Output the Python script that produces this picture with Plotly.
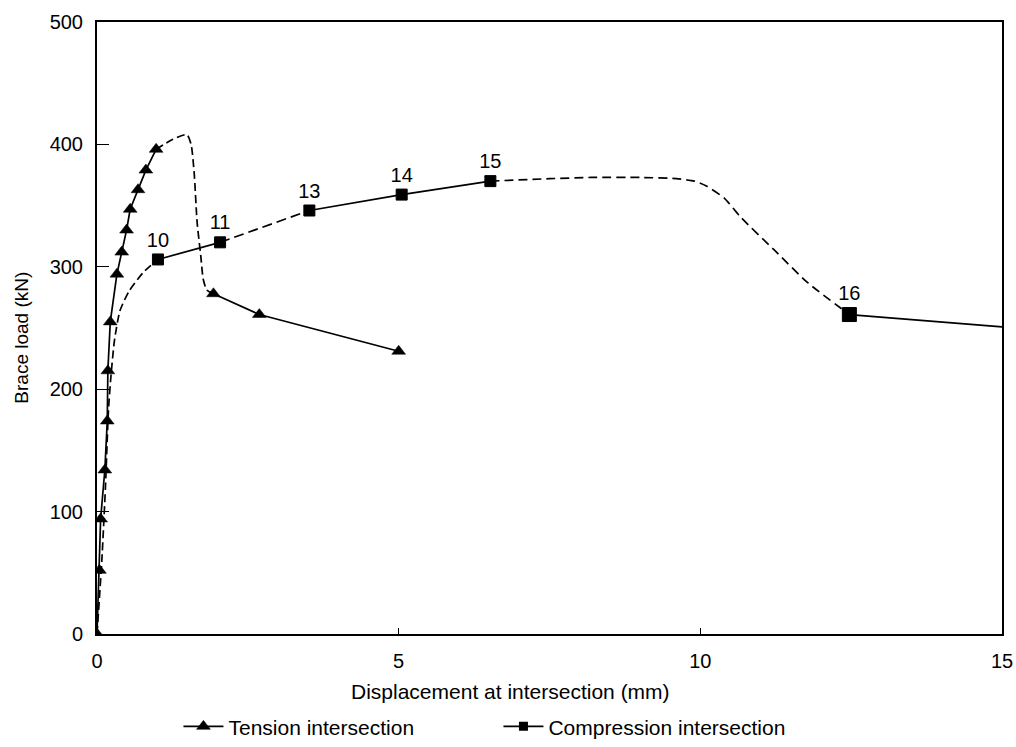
import plotly.graph_objects as go

# ---- data ----
# Tension intersection: loading branch (triangles)
ten_x = [0.0, 0.04, 0.06, 0.13, 0.17, 0.18, 0.22, 0.33, 0.41, 0.49, 0.55, 0.68, 0.81, 0.98]
ten_y = [0, 52, 94, 134, 174, 215, 255, 294, 312, 330, 347, 363, 379, 396]
# Tension: unloading path (dashed, no markers)
ten_drop_x = [0.98, 1.25, 1.49, 1.56, 1.61, 1.66, 1.72, 1.76, 1.82, 1.93]
ten_drop_y = [396, 404, 408, 400, 377, 336, 309, 290, 281, 278]
# Tension: post-buckling branch (triangles)
ten_post_x = [1.93, 2.69, 5.0]
ten_post_y = [278, 261, 231]

# Compression intersection: labelled points (squares)
comp_x = [1.01, 2.04, 3.52, 5.05, 6.52, 12.47]
comp_y = [306, 320, 346, 359, 370, 261]
comp_labels = ["10", "11", "13", "14", "15", "16"]
# Compression: initial dashed curve up to point 10
comp_pre_x = [0.0, 0.08, 0.14, 0.19, 0.23, 0.29, 0.38, 0.53, 0.76, 1.01]
comp_pre_y = [0, 60, 120, 183, 210, 240, 264, 280, 295, 306]
# Compression: dashed curve from 15 to 16
comp_mid_x = [6.52, 7.5, 8.2, 9.0, 9.6, 9.9, 10.1, 10.4, 10.66, 11.22, 11.78, 12.47]
comp_mid_y = [370, 372, 373, 373, 372, 370, 366, 356, 341, 314, 287, 261]
# Compression: final branch
comp_end_x = [12.47, 15.0]
comp_end_y = [261, 251]

BLACK = "#000000"
FONT = "Liberation Sans, Arial, sans-serif"
LW = 1.7

fig = go.Figure()

# tension
fig.add_trace(go.Scatter(x=ten_x, y=ten_y, mode="lines+markers", name="Tension intersection",
                         line=dict(color=BLACK, width=LW),
                         marker=dict(symbol="triangle-up", size=12, color=BLACK,
                                     line=dict(color=BLACK, width=0.5)),
                         legendgroup="t"))
fig.add_trace(go.Scatter(x=ten_drop_x, y=ten_drop_y, mode="lines", showlegend=False,
                         line=dict(color=BLACK, width=LW, dash="8px,4px", shape="spline", smoothing=0.6),
                         legendgroup="t"))
fig.add_trace(go.Scatter(x=ten_post_x, y=ten_post_y, mode="lines+markers", showlegend=False,
                         line=dict(color=BLACK, width=LW),
                         marker=dict(symbol="triangle-up", size=12, color=BLACK,
                                     line=dict(color=BLACK, width=0.5)),
                         legendgroup="t"))

# compression line segments
fig.add_trace(go.Scatter(x=comp_pre_x, y=comp_pre_y, mode="lines", showlegend=False,
                         line=dict(color=BLACK, width=LW, dash="8px,4px", shape="spline", smoothing=0.6)))
fig.add_trace(go.Scatter(x=comp_x[0:2], y=comp_y[0:2], mode="lines", showlegend=False,
                         line=dict(color=BLACK, width=LW)))
fig.add_trace(go.Scatter(x=comp_x[1:3], y=comp_y[1:3], mode="lines", showlegend=False,
                         line=dict(color=BLACK, width=LW, dash="10px,5px")))
fig.add_trace(go.Scatter(x=comp_x[2:5], y=comp_y[2:5], mode="lines", showlegend=False,
                         line=dict(color=BLACK, width=LW)))
fig.add_trace(go.Scatter(x=comp_mid_x, y=comp_mid_y, mode="lines", showlegend=False,
                         line=dict(color=BLACK, width=LW, dash="9px,5px", shape="spline", smoothing=0.6)))
fig.add_trace(go.Scatter(x=comp_end_x, y=comp_end_y, mode="lines", showlegend=False,
                         line=dict(color=BLACK, width=LW)))
# compression squares with labels
sizes = [11, 11, 11, 11, 11, 14]
fig.add_trace(go.Scatter(x=comp_x, y=comp_y, mode="markers+text", showlegend=False,
                         marker=dict(symbol="square", size=sizes, color=BLACK, opacity=1,
                                     line=dict(color=BLACK, width=1)),
                         text=comp_labels, textposition="top center",
                         textfont=dict(family=FONT, size=20, color=BLACK)))
# legend entry for compression
fig.add_trace(go.Scatter(x=[None], y=[None], mode="lines+markers", name="Compression intersection",
                         line=dict(color=BLACK, width=LW),
                         marker=dict(symbol="square", size=9, color=BLACK)))

fig.update_layout(
    width=1016, height=747,
    margin=dict(l=97, r=14, t=22, b=113, autoexpand=False),
    paper_bgcolor="white", plot_bgcolor="white",
    font=dict(family=FONT, size=20, color=BLACK),
    showlegend=True,
    legend=dict(orientation="h", x=0.09, y=-0.118, xanchor="left", yanchor="top",
                entrywidth=265, entrywidthmode="pixels",
                font=dict(family=FONT, size=21, color=BLACK),
                bgcolor="rgba(0,0,0,0)", itemwidth=40),
    xaxis=dict(range=[0, 15], tickvals=[0, 5, 10, 15], ticks="inside", ticklen=6,
               tickcolor=BLACK, showline=True, linecolor=BLACK, linewidth=2, mirror=True,
               showgrid=False, zeroline=False, ticklabelstandoff=8,
               tickfont=dict(family=FONT, size=20, color=BLACK)),
    yaxis=dict(range=[0, 500], tickvals=[0, 100, 200, 300, 400, 500], ticks="inside", ticklen=12,
               tickcolor=BLACK, showline=True, linecolor=BLACK, linewidth=2, mirror=True,
               showgrid=False, zeroline=False, ticklabelstandoff=8,
               tickfont=dict(family=FONT, size=20, color=BLACK)),
    annotations=[
        dict(text="Displacement at intersection (mm)", xref="paper", yref="paper",
             x=0.457, y=-0.094, xanchor="center", yanchor="middle", showarrow=False,
             font=dict(family=FONT, size=21, color=BLACK)),
        dict(text="Brace load (kN)", xref="paper", yref="paper", textangle=-90,
             x=-0.083, y=0.484, xanchor="center", yanchor="middle", showarrow=False,
             font=dict(family=FONT, size=19, color=BLACK)),
    ],
)

fig.write_html("out.html")
